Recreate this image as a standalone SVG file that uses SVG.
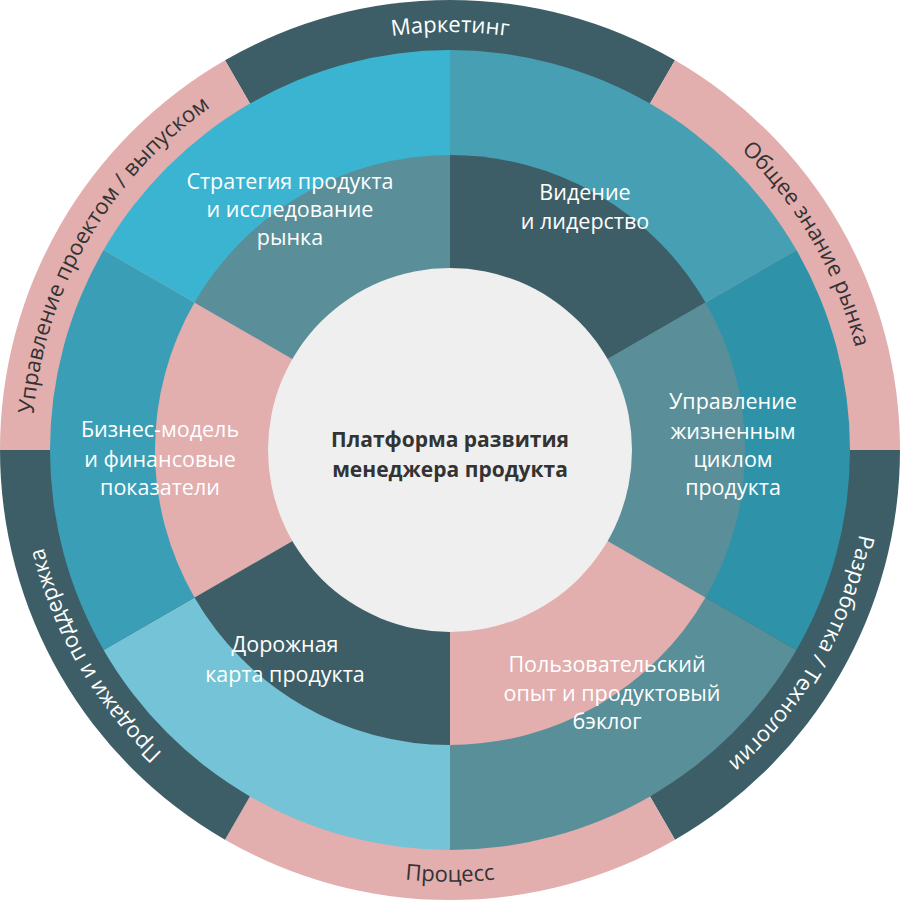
<svg xmlns="http://www.w3.org/2000/svg" width="900" height="900" viewBox="0 0 900 900">
<style>
.lbl{font-family:"Open Sans","Liberation Sans",sans-serif;font-size:21.5px;fill:#fff;text-anchor:middle}
.ring{font-family:"Open Sans","Liberation Sans",sans-serif;font-size:22px;text-anchor:middle}
.w{fill:#fff}.d{fill:#333}
.c{font-family:"Open Sans","Liberation Sans",sans-serif;font-size:21px;font-weight:bold;fill:#333;text-anchor:middle}
</style>
<defs>
<path id="p1" d="M88,241 A418,418 0 0 1 812,241"/>
<path id="p2" d="M450,32 A418,418 0 0 1 812,659"/>
<path id="p3" d="M812,241 A418,418 0 0 1 450,868"/>
<path id="p4" d="M76,666 A432,432 0 0 0 824,666"/>
<path id="p5" d="M450,868 A418,418 0 0 1 88,241"/>
<path id="p6" d="M88,659 A418,418 0 0 1 450,32"/>
</defs>
<g id="outer">
<path d="M450,450 L225,60.3 A450,450 0 0 1 675,60.3Z" fill="#3d5e66"/>
<path d="M450,450 L675,60.3 A450,450 0 0 1 900,450Z" fill="#e2aeae"/>
<path d="M450,450 L900,450 A450,450 0 0 1 675,839.7Z" fill="#3d5e66"/>
<path d="M450,450 L675,839.7 A450,450 0 0 1 225,839.7Z" fill="#e2aeae"/>
<path d="M450,450 L225,839.7 A450,450 0 0 1 0,450Z" fill="#3d5e66"/>
<path d="M450,450 L0,450 A450,450 0 0 1 225,60.3Z" fill="#e2aeae"/>
</g>
<g id="middle">
<path d="M450,450 L450,50 A400,400 0 0 1 796.4,250Z" fill="#469fb2"/>
<path d="M450,450 L796.4,250 A400,400 0 0 1 796.4,650Z" fill="#2e93a9"/>
<path d="M450,450 L796.4,650 A400,400 0 0 1 450,850Z" fill="#588f99"/>
<path d="M450,450 L450,850 A400,400 0 0 1 103.6,650Z" fill="#74c3d6"/>
<path d="M450,450 L103.6,650 A400,400 0 0 1 103.6,250Z" fill="#3a9fb6"/>
<path d="M450,450 L103.6,250 A400,400 0 0 1 450,50Z" fill="#3bb4d1"/>
</g>
<g id="inner">
<path d="M450,450 L450,155 A295,295 0 0 1 705.5,302.5Z" fill="#3d5e66"/>
<path d="M450,450 L705.5,302.5 A295,295 0 0 1 705.5,597.5Z" fill="#5a8f9a"/>
<path d="M450,450 L705.5,597.5 A295,295 0 0 1 450,745Z" fill="#e2aeae"/>
<path d="M450,450 L450,745 A295,295 0 0 1 194.5,597.5Z" fill="#3d5e66"/>
<path d="M450,450 L194.5,597.5 A295,295 0 0 1 194.5,302.5Z" fill="#e2aeae"/>
<path d="M450,450 L194.5,302.5 A295,295 0 0 1 450,155Z" fill="#5a8f9a"/>
</g>
<g id="center"><circle cx="450" cy="450" r="182" fill="#efefef"/>
<text class="c" x="450" y="447">Платформа развития</text>
<text class="c" x="450" y="477">менеджера продукта</text></g>
<g id="labels">
<text class="lbl" x="585" y="200">Видение</text><text class="lbl" x="585" y="229">и лидерство</text>
<text class="lbl" x="290" y="189">Стратегия продукта</text><text class="lbl" x="290" y="217">и исследование</text><text class="lbl" x="290" y="245">рынка</text>
<text class="lbl" x="733" y="409">Управление</text><text class="lbl" x="733" y="439">жизненным</text><text class="lbl" x="733" y="467">циклом</text><text class="lbl" x="733" y="495">продукта</text>
<text class="lbl" x="607" y="672">Пользовательский</text><text class="lbl" x="612" y="701">опыт и продуктовый</text><text class="lbl" x="607" y="729">бэклог</text>
<text class="lbl" x="285" y="652">Дорожная</text><text class="lbl" x="285" y="682">карта продукта</text>
<text class="lbl" x="160" y="437">Бизнес-модель</text><text class="lbl" x="160" y="467">и финансовые</text><text class="lbl" x="160" y="495">показатели</text>
</g>
<g id="ringlabels">
<text class="ring w"><textPath href="#p1" startOffset="50%">Маркетинг</textPath></text>
<text class="ring d"><textPath href="#p2" startOffset="50%">Общее знание рынка</textPath></text>
<text class="ring w"><textPath href="#p3" startOffset="50%">Разработка / Технологии</textPath></text>
<text class="ring d"><textPath href="#p4" startOffset="50%">Процесс</textPath></text>
<text class="ring w"><textPath href="#p5" startOffset="50%">Продажи и поддержка</textPath></text>
<text class="ring d"><textPath href="#p6" startOffset="50%">Управление проектом / выпуском</textPath></text>
</g>
</svg>
